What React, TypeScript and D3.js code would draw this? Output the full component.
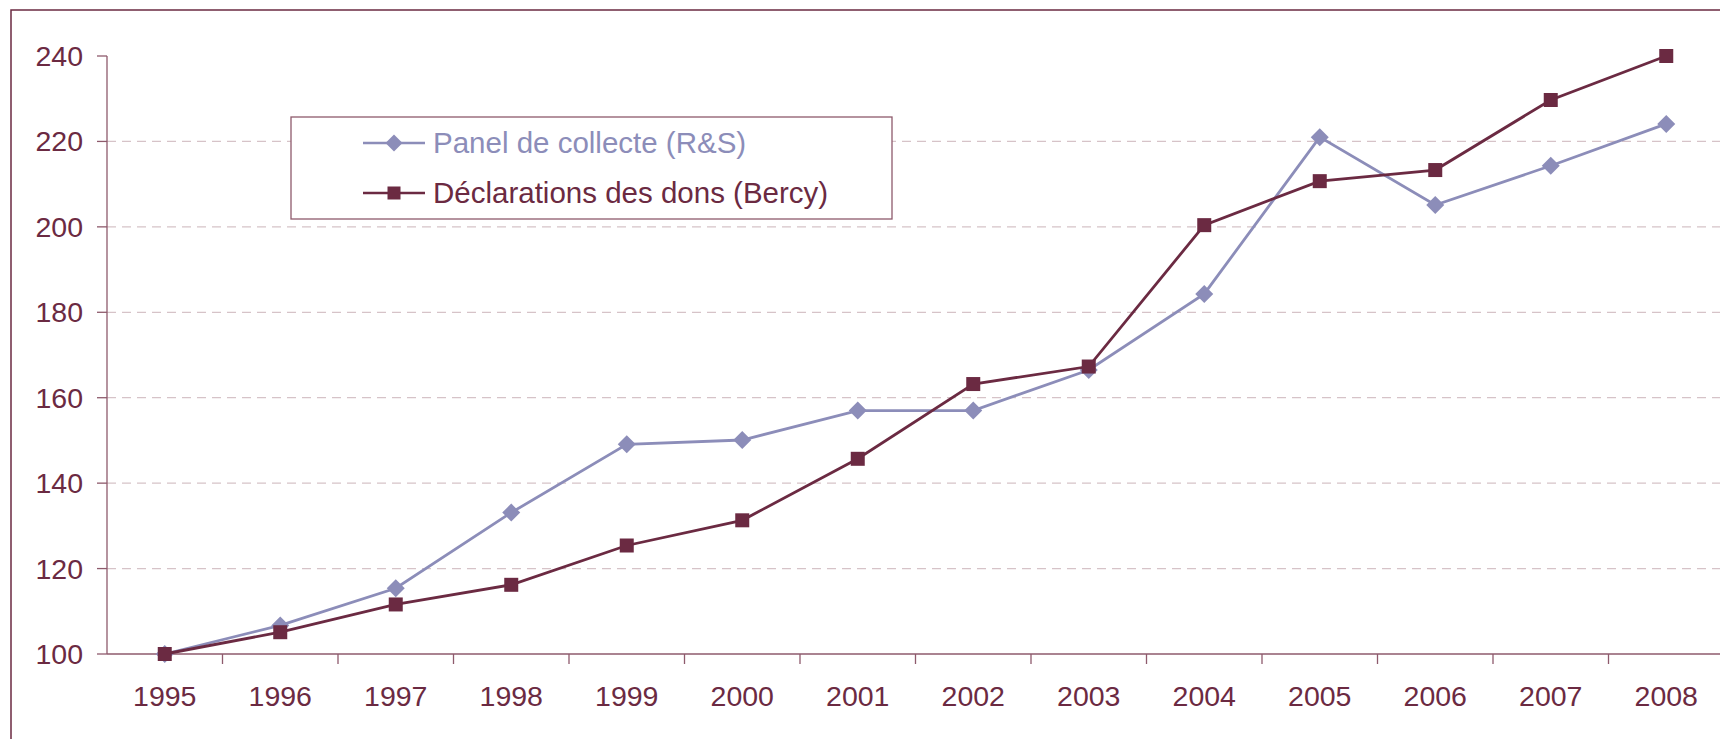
import React from 'react';
import * as d3 from 'd3';

const years = ['1995', '1996', '1997', '1998', '1999', '2000', '2001', '2002', '2003', '2004', '2005', '2006', '2007', '2008'];
const panelValues = [100, 106.7, 115.4, 133.1, 149.1, 150.1, 157.0, 157.0, 166.5, 184.3, 221.0, 205.1, 214.3, 224.1];
const bercyValues = [100, 105.1, 111.6, 116.2, 125.4, 131.3, 145.7, 163.2, 167.3, 200.4, 210.7, 213.3, 229.7, 240.0];
const yTicks = [100, 120, 140, 160, 180, 200, 220, 240];
const seriesNames = ['Panel de collecte (R&S)', 'Déclarations des dons (Bercy)'];

const W = 1720;
const H = 739;
const maroon = '#6B2A42';
const lilac = '#8C8DB9';
const font = '"Liberation Sans", Arial, sans-serif';

const App: React.FC = () => {
  const left = 107;
  const top = 56;
  const bottom = 654;
  const band = 115.5;

  const x = d3.scaleBand<string>()
    .domain(years)
    .range([left, left + band * years.length])
    .paddingInner(0)
    .paddingOuter(0);

  const y = d3.scaleLinear()
    .domain([100, 240])
    .range([bottom, top]);

  const cx = (d: string) => (x(d) || 0) + x.bandwidth() / 2;

  const line = d3.line<number>()
    .x((_, i) => cx(years[i]))
    .y(d => y(d));

  const diamond = (px: number, py: number, r: number) =>
    `M${px},${py - r}L${px + r},${py}L${px},${py + r}L${px - r},${py}Z`;

  const legendRows = [
    { name: seriesNames[0], color: lilac, marker: 'diamond', y: 143 },
    { name: seriesNames[1], color: maroon, marker: 'square', y: 193 },
  ];

  return (
    <svg width={W} height={H} style={{ position: 'absolute', left: 0, top: 0, background: '#fff' }}
      fontFamily={font}>
      <rect x={0} y={0} width={W} height={H} fill="#fff" />
      {/* outer frame */}
      <rect x={11} y={10} width={W + 20} height={H + 20} fill="none" stroke={maroon} strokeWidth={1.5} />

      {/* gridlines */}
      {yTicks.filter(t => t > 100 && t < 240).map(t => (
        <line key={'g' + t} x1={left} x2={W} y1={y(t)} y2={y(t)}
          stroke="#D6C3C8" strokeWidth={1.2} strokeDasharray="9,6" />
      ))}

      {/* y axis */}
      <line x1={left} x2={left} y1={top} y2={bottom} stroke="#8E5A6C" strokeWidth={1.3} />
      {yTicks.map(t => (
        <g key={'y' + t}>
          <line x1={left - 10} x2={left} y1={y(t)} y2={y(t)} stroke="#8E5A6C" strokeWidth={1.3} />
          <text x={83} y={y(t)} dy="0.35em" textAnchor="end" fontSize={28.5} fill={maroon}>{t}</text>
        </g>
      ))}

      {/* x axis */}
      <line x1={left} x2={W} y1={bottom} y2={bottom} stroke="#8E5A6C" strokeWidth={1.3} />
      {years.map((yr, i) => (
        <g key={'x' + yr}>
          {i > 0 && (
            <line x1={x(yr)} x2={x(yr)} y1={bottom} y2={bottom + 10} stroke="#8E5A6C" strokeWidth={1.3} />
          )}
          <text x={cx(yr)} y={706} textAnchor="middle" fontSize={28.5} fill={maroon}>{yr}</text>
        </g>
      ))}

      {/* panel series */}
      <path d={line(panelValues) || ''} fill="none" stroke={lilac} strokeWidth={2.8} />
      {panelValues.map((v, i) => (
        <path key={'p' + i} d={diamond(cx(years[i]), y(v), 9)} fill={lilac} />
      ))}

      {/* bercy series */}
      <path d={line(bercyValues) || ''} fill="none" stroke={maroon} strokeWidth={2.8} />
      {bercyValues.map((v, i) => (
        <rect key={'b' + i} x={cx(years[i]) - 7} y={y(v) - 7} width={14} height={14} fill={maroon} />
      ))}

      {/* legend */}
      <rect x={291} y={117} width={601} height={102} fill="#fff" stroke="#8E5A6C" strokeWidth={1.3} />
      {legendRows.map(r => (
        <g key={r.name}>
          <line x1={363} x2={425} y1={r.y} y2={r.y} stroke={r.color} strokeWidth={2.6} />
          {r.marker === 'diamond'
            ? <path d={diamond(394, r.y, 8.5)} fill={r.color} />
            : <rect x={387.5} y={r.y - 6.5} width={13} height={13} fill={r.color} />}
          <text x={433} y={r.y} dy="0.35em" fontSize={29.5} fill={r.color}>{r.name}</text>
        </g>
      ))}
    </svg>
  );
};

export default App;
